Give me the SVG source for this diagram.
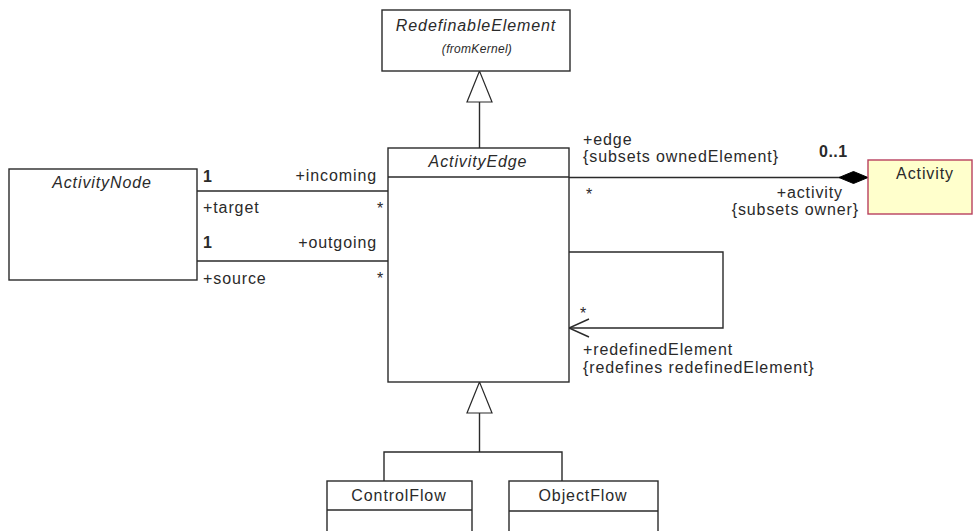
<svg xmlns="http://www.w3.org/2000/svg" width="973" height="531" viewBox="0 0 973 531">
<style>
text{font-family:"Liberation Sans",Arial,sans-serif;font-size:16px;fill:#2a2a2a;letter-spacing:0.9px}
.it{font-style:italic}
.b{font-weight:bold;letter-spacing:0.5px}
.sm{font-size:12px;letter-spacing:0.3px}
.mid{text-anchor:middle}
.end{text-anchor:end}
.box{fill:#fff;stroke:#2a2a2a;stroke-width:1.4}
.ln{fill:none;stroke:#2a2a2a;stroke-width:1.4}
.tri{fill:#fff;stroke:#2a2a2a;stroke-width:1.2}
</style>
<rect width="973" height="531" fill="#fff"/>
<g id="connectors">
  <line class="ln" x1="479.5" y1="102" x2="479.5" y2="148"/>
  <polygon class="tri" points="479.5,71 467,102 492,102"/>
  <line class="ln" x1="197" y1="191" x2="388" y2="191"/>
  <line class="ln" x1="197" y1="261" x2="388" y2="261"/>
  <line class="ln" x1="569" y1="177.5" x2="840" y2="177.5"/>
  <polygon points="868,177.5 853.5,171.5 839,177.5 853.5,183.5" fill="#000" stroke="#000" stroke-width="1"/>
  <polyline class="ln" points="569,252 723,252 723,328 569,328"/>
  <polyline class="ln" points="589,319 569,328 589,337"/>
  <polyline class="ln" points="479.5,413 479.5,452"/>
  <polyline class="ln" points="384,481 384,452 562,452 562,481"/>
  <polygon class="tri" points="479.5,382 467,413 492,413"/>
  <text class="b" x="203" y="182">1</text>
  <text class="end" x="377" y="181">+incoming</text>
  <text x="203" y="213">+target</text>
  <text x="377" y="214">*</text>
  <text class="b" x="203" y="248">1</text>
  <text class="end" x="377" y="248">+outgoing</text>
  <text x="203" y="284">+source</text>
  <text x="377" y="284">*</text>
  <text x="583" y="145">+edge</text>
  <text x="583" y="162">{subsets ownedElement}</text>
  <text class="b" x="819" y="157">0..1</text>
  <text x="586" y="200">*</text>
  <text class="end" x="843" y="198">+activity</text>
  <text class="end" x="859" y="215">{subsets owner}</text>
  <text x="580" y="319">*</text>
  <text x="583" y="355">+redefinedElement</text>
  <text x="583" y="373">{redefines redefinedElement}</text>
</g>
<g id="RedefinableElement">
  <rect class="box" x="382" y="10" width="188" height="61"/>
  <text class="it mid" x="476" y="31">RedefinableElement</text>
  <text class="it sm mid" x="477" y="53">(fromKernel)</text>
</g>
<g id="ActivityEdge">
  <rect class="box" x="388" y="148" width="181" height="234"/>
  <line class="ln" x1="388" y1="177" x2="569" y2="177"/>
  <text class="it mid" x="478" y="167">ActivityEdge</text>
</g>
<g id="ActivityNode">
  <rect class="box" x="9" y="169" width="188" height="111"/>
  <text class="it mid" x="102" y="188">ActivityNode</text>
</g>
<g id="Activity">
  <rect x="868" y="160" width="104" height="54" fill="#FFFFCC" stroke="#B8405E" stroke-width="1.4"/>
  <text class="mid" x="925" y="179">Activity</text>
</g>
<g id="ControlFlow">
  <rect class="box" x="327" y="481" width="145" height="60"/>
  <line class="ln" x1="327" y1="510" x2="472" y2="510"/>
  <text class="mid" x="399" y="501">ControlFlow</text>
</g>
<g id="ObjectFlow">
  <rect class="box" x="509" y="481" width="149" height="60"/>
  <line class="ln" x1="509" y1="511" x2="658" y2="511"/>
  <text class="mid" x="583" y="501">ObjectFlow</text>
</g>
</svg>
